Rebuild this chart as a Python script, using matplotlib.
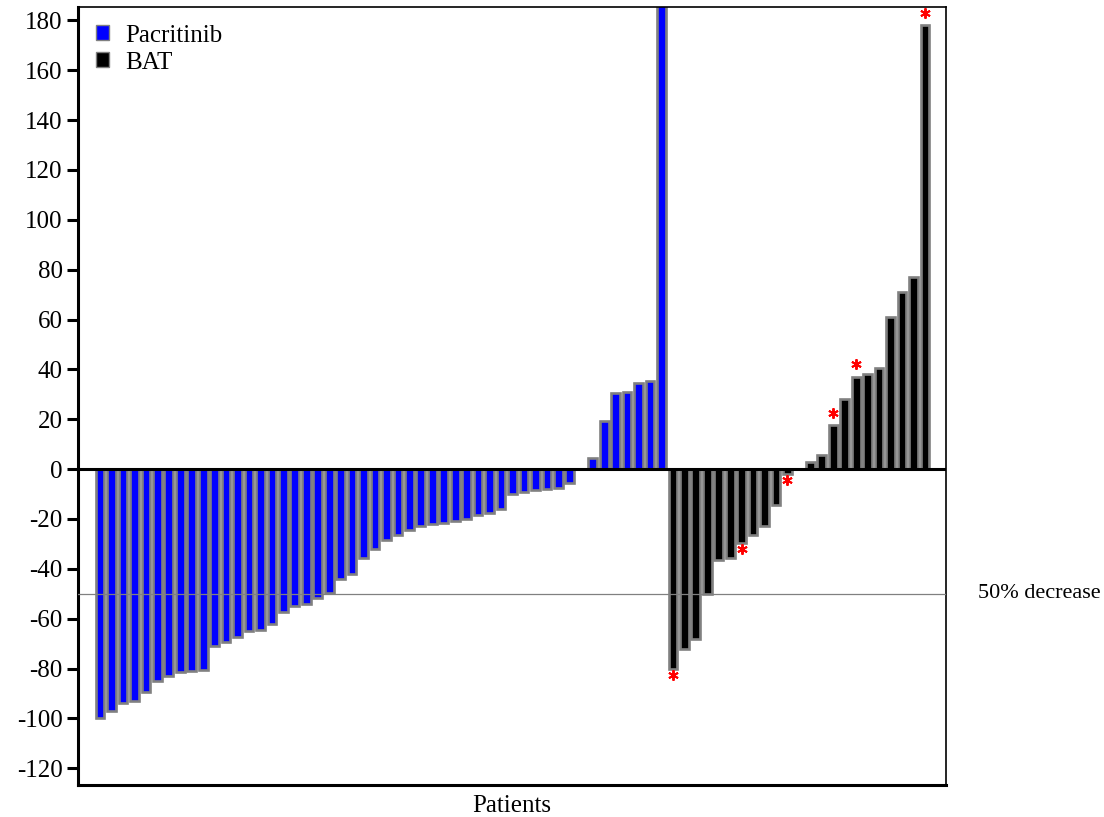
import numpy as np
import matplotlib.pyplot as plt
from matplotlib.patches import Patch
from matplotlib.transforms import ScaledTranslation, blended_transform_factory

plt.rcParams['font.family'] = ['Liberation Serif', 'DejaVu Serif']
plt.rcParams['axes.unicode_minus'] = False

# Best percent change in spleen volume, one bar per patient, sorted within arm
pacritinib = [-100, -97, -94, -93, -89.5, -85, -83, -81.5, -81, -80.5,
              -71, -69.5, -67.5, -65, -64.5, -62, -57.5, -55, -54, -51.5,
              -49.5, -44, -42, -35.5, -32, -28.5, -26.5, -24.5, -23, -22,
              -21.5, -21, -20, -18.5, -17.8, -16, -10, -9, -8.5, -8,
              -7.5, -5.5, 0, 4.5, 19.5, 30.5, 31, 34.5, 35.5, 260]
bat = [-80, -72, -68, -50, -36.5, -35.5, -29.5, -26.5, -23, -14.5,
       -2, 0, 3, 5.5, 17.5, 28, 37, 38, 40.5, 61,
       71, 77, 178]
# BAT patients marked with a red asterisk (positions in the bat list)
bat_flagged = [0, 6, 10, 14, 16, 22]

yticks = list(range(-120, 181, 20))

fig = plt.figure(figsize=(11.04, 8.17), dpi=100)
ax = fig.add_axes([0.0707, 0.0392, 0.786, 0.952])

x_pac = np.arange(len(pacritinib))
x_bat = len(pacritinib) + np.arange(len(bat))

ax.bar(x_pac, pacritinib, width=0.76, color='#0000ff', edgecolor='#808080',
       linewidth=1.9, zorder=2)
ax.bar(x_bat, bat, width=0.76, color='black', edgecolor='#808080',
       linewidth=1.9, zorder=2)

# asterisks just beyond the end of each flagged bar
for i in bat_flagged:
    v = bat[i]
    dy = 9 if v > 0 else -4.5
    tr = ax.transData + ScaledTranslation(0, dy / 72, fig.dpi_scale_trans)
    ax.plot(x_bat[i], v, marker=(6, 2, 0), ms=7.5, mew=1.4, color='red',
            transform=tr, zorder=4, clip_on=False)

ax.axhline(0, color='black', lw=2.2, zorder=3)
ax.axhline(-50, color='#808080', lw=0.9, zorder=3)

trans = blended_transform_factory(ax.transAxes, ax.transData)
ax.text(1.037, -50, '50% decrease', transform=trans, fontsize=16,
        va='center', ha='left')

ax.set_xlim(-1.92, 73.82)
ax.set_ylim(-126.7, 185.3)
ax.set_yticks(yticks)
ax.set_xticks([])
ax.tick_params(axis='y', labelsize=18, length=8, width=2.2, pad=3)
ax.set_xlabel('Patients', fontsize=18, labelpad=7)

for side in ['left', 'bottom']:
    ax.spines[side].set_linewidth(2.2)
for side in ['top', 'right']:
    ax.spines[side].set_linewidth(1.2)

handles = [Patch(facecolor='#0000ff', edgecolor='#808080', lw=1, label='Pacritinib'),
           Patch(facecolor='black', edgecolor='#808080', lw=1, label='BAT')]
ax.legend(handles=handles, loc='upper left', frameon=False, fontsize=18,
          handlelength=0.55, handleheight=0.55, handletextpad=0.65,
          labelspacing=0.2, borderaxespad=0.3)

fig.savefig('out.png', dpi=100)
